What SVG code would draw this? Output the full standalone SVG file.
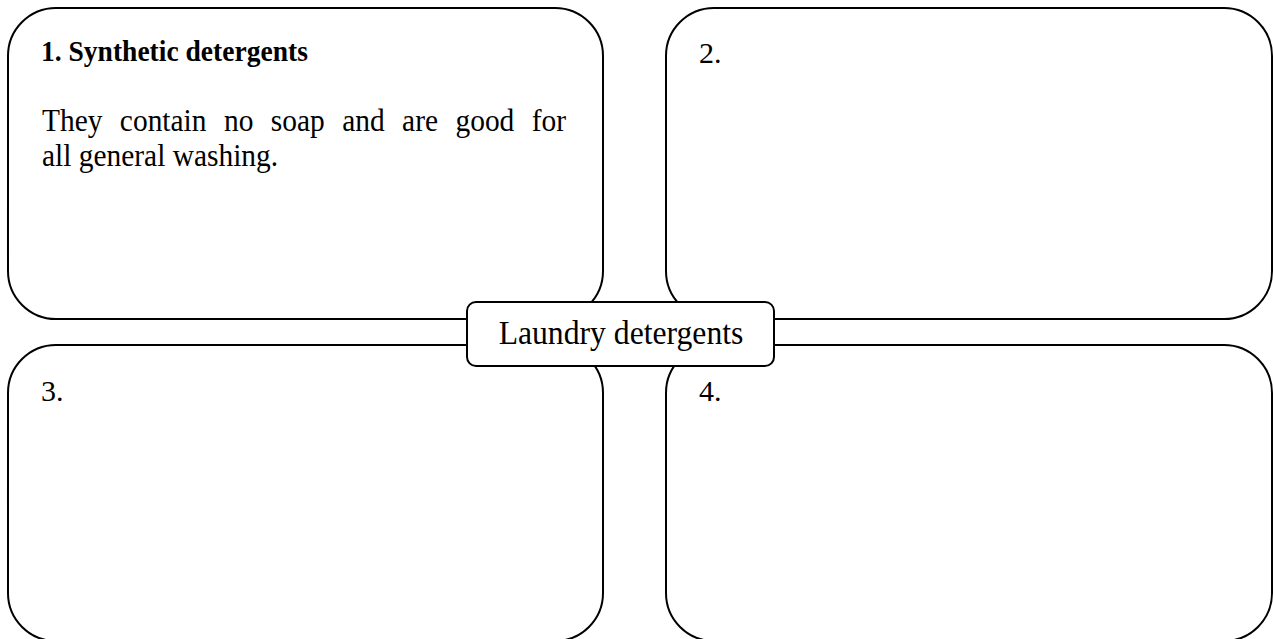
<svg xmlns="http://www.w3.org/2000/svg" width="1273" height="639" viewBox="0 0 1273 639">
<style>
.box{fill:#fff;stroke:#000;stroke-width:2}
.t{font-family:"Liberation Serif","Times New Roman",serif;fill:#000;font-size:31px}
.b{font-weight:bold;font-size:29px}
.n{font-size:30px}
</style>
<rect width="1273" height="639" fill="#fff"/>
<g id="connectors"></g>
<g id="node1">
<rect class="box" x="8" y="8" width="595" height="311" rx="48" ry="48"/>
<g transform="translate(41,0) scale(0.95,1)">
<text class="t b" x="0" y="61">1. Synthetic detergents</text>
<text class="t" x="1" y="131" word-spacing="10.6">They contain no soap and are good for</text>
<text class="t" x="1" y="166">all general washing.</text>
</g>
</g>
<g id="node2">
<rect class="box" x="666" y="8" width="606" height="311" rx="48" ry="48"/>
<text class="t n" x="699" y="63">2.</text>
</g>
<g id="node3">
<rect class="box" x="8" y="345" width="595" height="296" rx="48" ry="48"/>
<text class="t n" x="41" y="401">3.</text>
</g>
<g id="node4">
<rect class="box" x="666" y="345" width="606" height="296" rx="48" ry="48"/>
<text class="t n" x="699" y="401">4.</text>
</g>
<g id="center">
<rect class="box" x="467" y="302" width="307" height="64" rx="9" ry="9"/>
<text class="t" x="0" y="344" text-anchor="middle" transform="translate(621,0) scale(0.96,1)" style="font-size:33px">Laundry detergents</text>
</g>
</svg>
